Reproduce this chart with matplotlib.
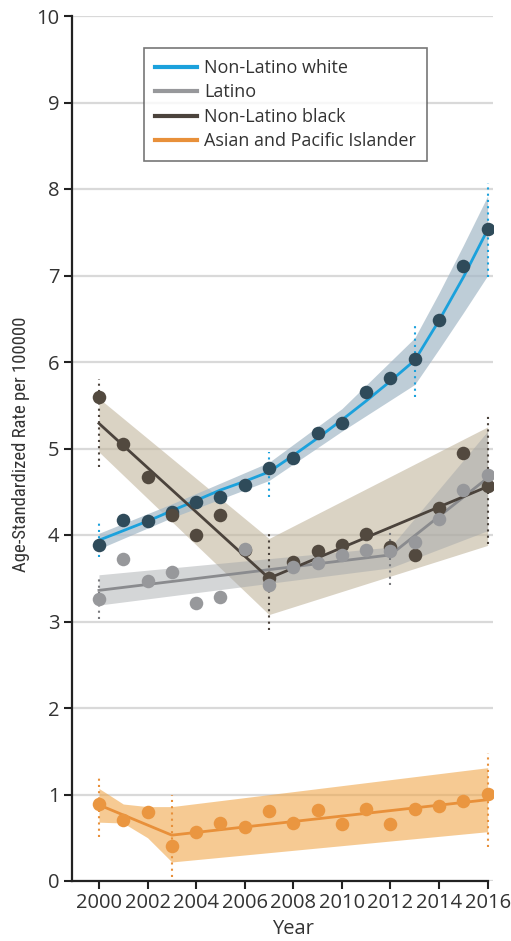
import matplotlib
matplotlib.use("Agg")
import matplotlib.pyplot as plt
from matplotlib.lines import Line2D
from matplotlib import font_manager

plt.rcParams['font.family'] = ['Open Sans', 'DejaVu Sans']

names = {f.name for f in font_manager.fontManager.ttflist}
cond_family = None
for cand in ["Liberation Sans Narrow", "DejaVu Sans Condensed", "Roboto Condensed", "Open Sans Condensed"]:
    if cand in names:
        cond_family = cand
        break

years = list(range(2000, 2017))

# Observed rates (dots)
white_obs = [3.88, 4.17, 4.16, 4.27, 4.38, 4.44, 4.58, 4.77, 4.89, 5.18, 5.29, 5.65, 5.82, 6.03, 6.49, 7.11, 7.54]
latino_obs = [3.26, 3.72, 3.47, 3.57, 3.21, 3.28, 3.84, 3.42, 3.63, 3.68, 3.77, 3.83, 3.81, 3.92, 4.19, 4.52, 4.69]
black_obs = [5.59, 5.05, 4.67, 4.23, 4.00, 4.23, 3.83, 3.50, 3.69, 3.82, 3.88, 4.01, 3.86, 3.77, 4.31, 4.95, 4.57]
asian_obs = [0.89, 0.70, 0.80, 0.40, 0.57, 0.67, 0.63, 0.81, 0.67, 0.82, 0.66, 0.83, 0.66, 0.83, 0.87, 0.92, 1.01]

# Fitted (joinpoint) lines
white_fit = [3.94, 4.05, 4.16, 4.28, 4.40, 4.52, 4.62, 4.73, 4.92, 5.12, 5.33, 5.55, 5.78, 6.02, 6.48, 6.98, 7.53]
latino_fit_x = [2000, 2012, 2016]
latino_fit_y = [3.36, 3.77, 4.66]
black_fit_x = [2000, 2007, 2016]
black_fit_y = [5.29, 3.50, 4.56]
asian_fit_x = [2000, 2003, 2016]
asian_fit_y = [0.88, 0.53, 0.94]

# Confidence bands
white_band_x = [2000, 2003, 2007, 2010, 2013, 2014, 2015, 2016]
white_band_lo = [3.84, 4.20, 4.63, 5.20, 5.74, 6.15, 6.57, 7.00]
white_band_hi = [4.02, 4.36, 4.84, 5.46, 6.28, 6.80, 7.35, 7.92]
latino_band_x = [2000, 2012, 2016]
latino_band_lo = [3.19, 3.62, 4.05]
latino_band_hi = [3.54, 3.86, 5.20]
black_band_x = [2000, 2007, 2016]
black_band_lo = [4.96, 3.08, 3.88]
black_band_hi = [5.58, 3.96, 5.25]
asian_band_x = [2000, 2001, 2002, 2003, 2016]
asian_band_lo = [0.68, 0.67, 0.50, 0.22, 0.57]
asian_band_hi = [1.07, 0.89, 0.86, 0.86, 1.31]

# Joinpoint confidence intervals (dotted verticals)
white_ci_x = [2000, 2007, 2013, 2016]
white_ci_lo = [3.75, 4.44, 5.60, 6.98]
white_ci_hi = [4.15, 4.96, 6.45, 8.07]
latino_ci_x = [2000, 2012]
latino_ci_lo = [3.03, 3.42]
latino_ci_hi = [3.50, 4.09]
black_ci_x = [2000, 2007, 2016]
black_ci_lo = [4.79, 2.90, 3.90]
black_ci_hi = [5.80, 4.03, 5.39]
asian_ci_x = [2000, 2003, 2016]
asian_ci_lo = [0.51, 0.05, 0.39]
asian_ci_hi = [1.23, 1.00, 1.48]

labels = ["Non-Latino white", "Latino", "Non-Latino black", "Asian and Pacific Islander"]
xticks = list(range(2000, 2017, 2))
yticks = list(range(0, 11))

c_blue = "#1ba1dc"
c_wdot = "#2f4b5a"
c_gray = "#97989b"
c_gline = "#8a8b8e"
c_black = "#4b433c"
c_bdot = "#52493f"
c_orange = "#e8903a"
c_odot = "#ea9640"
txt = "#333333"

fig = plt.figure(figsize=(5.11, 9.41), dpi=100)
xmin, xmax = 1998.89, 2016.22
ax = fig.add_axes([72/511, 60/941, (493-72)/511, (881-16)/941])
ax.set_xlim(xmin, xmax)
ax.set_ylim(0, 10)

for y in yticks:
    ax.axhline(y, color="#d9d9d9", lw=1.6, zorder=0)

# bands
ax.fill_between(black_band_x, black_band_lo, black_band_hi, color="#c2b69e", alpha=0.6, lw=0, zorder=1)
ax.fill_between(latino_band_x, latino_band_lo, latino_band_hi, color="#a0a4a8", alpha=0.45, lw=0, zorder=1)
ax.fill_between(white_band_x, white_band_lo, white_band_hi, color="#a3b8c7", alpha=0.7, lw=0, zorder=1)
ax.fill_between(asian_band_x, asian_band_lo, asian_band_hi, color="#f0a84c", alpha=0.6, lw=0, zorder=1)

# dotted CIs
ax.vlines(white_ci_x, white_ci_lo, white_ci_hi, colors=c_blue, linestyles=(0, (1, 2)), lw=1.5, zorder=2)
ax.vlines(latino_ci_x, latino_ci_lo, latino_ci_hi, colors="#7a7b7e", linestyles=(0, (1, 2)), lw=1.5, zorder=2)
ax.vlines(black_ci_x, black_ci_lo, black_ci_hi, colors="#4b433c", linestyles=(0, (1, 2)), lw=1.5, zorder=2)
ax.vlines(asian_ci_x, asian_ci_lo, asian_ci_hi, colors=c_orange, linestyles=(0, (1, 2)), lw=1.5, zorder=2)

# fitted lines
ax.plot(years, white_fit, color=c_blue, lw=2.0, zorder=3)
ax.plot(latino_fit_x, latino_fit_y, color=c_gline, lw=2.0, zorder=3)
ax.plot(black_fit_x, black_fit_y, color=c_black, lw=2.0, zorder=3)
ax.plot(asian_fit_x, asian_fit_y, color=c_orange, lw=2.0, zorder=3)

# dots
s = 95
ax.scatter(years, white_obs, s=s, color=c_wdot, lw=0, zorder=4)
ax.scatter(years, black_obs, s=s, color=c_bdot, lw=0, zorder=5)
ax.scatter(years, latino_obs, s=s, color=c_gray, lw=0, zorder=6)
ax.scatter(years, asian_obs, s=s, color=c_odot, lw=0, zorder=4)

for sp in ["top", "right"]:
    ax.spines[sp].set_visible(False)
for sp in ["left", "bottom"]:
    ax.spines[sp].set_linewidth(1.6)
    ax.spines[sp].set_color("#222222")
ax.spines["bottom"].set_bounds(xmin, 2016)

ax.set_xticks(xticks)
ax.set_yticks(yticks)
ax.tick_params(axis="both", direction="out", length=6, width=1.5, color="#222222",
               labelsize=14.5, labelcolor=txt, pad=3)

ax.set_xlabel("Year", fontsize=14.5, color=txt)
ax.xaxis.set_label_coords((2008 - xmin) / (xmax - xmin), -0.044)
if cond_family:
    ax.set_ylabel("Age-Standardized Rate per 100000", fontsize=13.5, color=txt,
                  family=[cond_family, 'DejaVu Sans'])
else:
    ax.set_ylabel("Age-Standardized Rate per 100000", fontsize=11, color=txt)
ax.yaxis.set_label_coords(-0.10, 0.505)

handles = [Line2D([0], [0], color=c_blue, lw=3),
           Line2D([0], [0], color=c_gray, lw=3),
           Line2D([0], [0], color=c_black, lw=3),
           Line2D([0], [0], color=c_orange, lw=3)]
leg = ax.legend(handles, labels, loc="upper left", bbox_to_anchor=((144-72)/421, (881-48)/865),
                fontsize=13, frameon=True, fancybox=False, handlelength=2.33, handletextpad=0.4,
                labelspacing=0.36, borderpad=0.6, borderaxespad=0)
leg.get_frame().set_edgecolor("#555555")
leg.get_frame().set_linewidth(1.2)
for t in leg.get_texts():
    t.set_color(txt)

fig.savefig("out.png", dpi=100)
